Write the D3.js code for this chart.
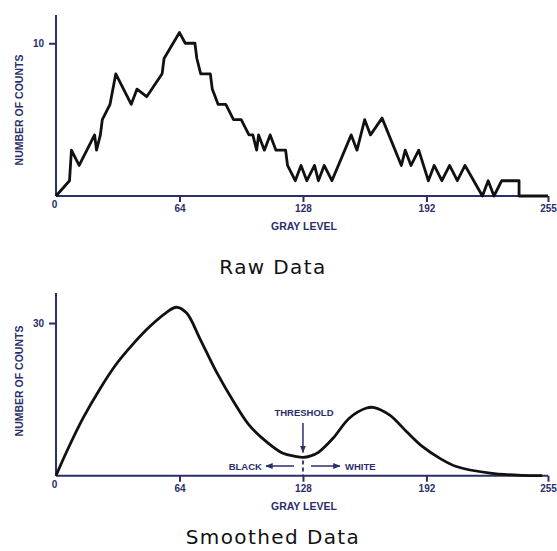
<!DOCTYPE html>
<html>
<head>
  <script src="https://cdnjs.cloudflare.com/ajax/libs/d3/7.8.5/d3.min.js"></script>
  <style>
    body { margin: 0; background: #fff; }
    .axis path, .axis line { stroke: #2b2e6b; stroke-width: 2; }
    .axis text, .label, .note {
      fill: #2b2e6b;
      font-family: "Liberation Sans", Arial, sans-serif;
      font-weight: bold;
    }
    .axis text { font-size: 10px; }
    .label { font-size: 10.5px; }
    .note { font-size: 9.5px; }
    .title {
      font-family: "DejaVu Sans", sans-serif;
      font-size: 20px;
      letter-spacing: 1.4px;
      fill: #111;
    }
    .data { fill: none; stroke: #111; stroke-width: 2.8; stroke-linejoin: round; }
  </style>
</head>
<body>
<div id="chart"></div>
<script>
  // Raw histogram (gray level, count)
  const rawLevels = [0, 7, 8, 12, 20, 21, 23, 24, 28, 31, 39, 42, 47, 55, 56, 64, 67, 72, 73, 75,
    80, 81, 84, 88, 92, 96, 100, 102, 104, 105, 108, 111, 114, 119, 120, 124, 127, 130, 134, 136,
    139, 143, 153, 156, 160, 163, 169, 179, 181, 184, 188, 193, 196, 200, 204, 208, 212, 221, 224,
    227, 231, 240, 240, 255];
  const rawCounts = [0, 1, 3, 2, 4, 3, 4, 5, 6, 8, 6, 7, 6.5, 8, 9, 10.7, 10, 10, 9, 8,
    8, 7, 6, 6, 5, 5, 4, 4, 3, 4, 3, 4, 3, 3, 2, 1, 2, 1, 2, 1,
    2, 1, 4, 3, 5, 4, 5.1, 2, 3, 2, 3, 1, 2, 1, 2, 1, 2, 0, 1,
    0, 1, 1, 0, 0];

  // Smoothed histogram
  const smoothLevels = [0, 5.5, 14, 23, 31, 40, 48.6, 57, 62.4, 67.6, 74.5, 83, 92, 100, 109,
    117.6, 124, 128, 132, 136, 143.7, 152, 161, 165, 173, 181.6, 190, 199, 207.5, 225, 242, 252];
  const smoothCounts = [0, 4.7, 11.3, 17.2, 21.8, 25.9, 29.3, 32, 33.1, 32, 27, 20.5, 14.6, 10, 6.7,
    4.4, 3.8, 3.6, 3.9, 4.6, 7.4, 11.3, 13.3, 13.4, 11.9, 8.7, 5.7, 3.4, 1.8, 0.5, 0.05, 0];

  const xTicks = [0, 64, 128, 192, 255];
  const rawYTicks = [10];
  const smoothYTicks = [30];
  const thresholdLevel = 128;

  const svg = d3.select("#chart").append("svg")
    .attr("width", 557)
    .attr("height", 551);

  const navy = "#2b2e6b";

  // arrow head
  svg.append("defs").append("marker")
    .attr("id", "head")
    .attr("viewBox", "0 0 10 10")
    .attr("refX", 9).attr("refY", 5)
    .attr("markerWidth", 5).attr("markerHeight", 5)
    .attr("orient", "auto")
    .append("path")
      .attr("d", "M0,1 L10,5 L0,9 Z")
      .attr("fill", navy);

  const x = d3.scaleLinear().domain([0, 255]).range([56, 548]);

  function drawPanel(p) {
    const y = d3.scaleLinear().domain([0, p.yMax]).range([p.base, p.top]);

    const xAxis = svg.append("g")
      .attr("class", "axis")
      .attr("transform", `translate(0,${p.base})`)
      .call(d3.axisBottom(x).tickValues(xTicks).tickSize(6).tickSizeOuter(0).tickPadding(3));
    xAxis.select(".domain").attr("d", `M${x(0)},0H${x(255)}`);
    // origin label sits without a tick
    xAxis.selectAll(".tick").filter(d => d === 0).each(function() {
      d3.select(this).select("line").remove();
      d3.select(this).select("text").attr("x", -2).attr("y", 5);
    });

    const yAxis = svg.append("g")
      .attr("class", "axis")
      .attr("transform", `translate(${x(0)},0)`)
      .call(d3.axisLeft(y).tickValues(p.yTicks).tickSize(7).tickSizeOuter(0).tickPadding(5));
    yAxis.select(".domain").attr("d", `M0,${p.base}V${p.top}`);

    svg.append("text")
      .attr("class", "label")
      .attr("transform", `translate(23,${p.labelY}) rotate(-90)`)
      .attr("text-anchor", "middle")
      .text("NUMBER OF COUNTS");

    svg.append("text")
      .attr("class", "label")
      .attr("x", x(128) + 1)
      .attr("y", p.base + 34)
      .attr("text-anchor", "middle")
      .text("GRAY LEVEL");

    svg.append("path")
      .datum(d3.zip(p.levels, p.counts))
      .attr("class", "data")
      .attr("d", d3.line().x(d => x(d[0])).y(d => y(d[1])).curve(p.curve));

    svg.append("text")
      .attr("class", "title")
      .attr("x", 273)
      .attr("y", p.titleY)
      .attr("text-anchor", "middle")
      .text(p.title);

    return y;
  }

  drawPanel({
    base: 196, top: 15, yMax: 11.85, yTicks: rawYTicks,
    levels: rawLevels, counts: rawCounts, curve: d3.curveLinear,
    labelY: 110, titleY: 274, title: "Raw Data"
  });

  const ys = drawPanel({
    base: 475.7, top: 293, yMax: 35.9, yTicks: smoothYTicks,
    levels: smoothLevels, counts: smoothCounts, curve: d3.curveCatmullRom.alpha(0.5),
    labelY: 381, titleY: 544, title: "Smoothed Data"
  });

  // threshold annotation
  const tx = x(thresholdLevel);
  svg.append("text")
    .attr("class", "note")
    .attr("x", tx + 1)
    .attr("y", 415.5)
    .attr("text-anchor", "middle")
    .text("THRESHOLD");

  svg.append("line")
    .attr("x1", tx).attr("x2", tx)
    .attr("y1", 423).attr("y2", ys(3.6) - 5)
    .attr("stroke", navy).attr("stroke-width", 1.5)
    .attr("marker-end", "url(#head)");

  svg.append("line")
    .attr("x1", tx).attr("x2", tx)
    .attr("y1", ys(3.6) + 3).attr("y2", ys(0))
    .attr("stroke", navy).attr("stroke-width", 1.8)
    .attr("stroke-dasharray", "4,3");

  svg.append("line")
    .attr("x1", tx - 9).attr("x2", tx - 37)
    .attr("y1", 466).attr("y2", 466)
    .attr("stroke", navy).attr("stroke-width", 1.5)
    .attr("marker-end", "url(#head)");

  svg.append("line")
    .attr("x1", tx + 8).attr("x2", tx + 37)
    .attr("y1", 466).attr("y2", 466)
    .attr("stroke", navy).attr("stroke-width", 1.5)
    .attr("marker-end", "url(#head)");

  svg.append("text")
    .attr("class", "note")
    .attr("x", tx - 41)
    .attr("y", 469.5)
    .attr("text-anchor", "end")
    .text("BLACK");

  svg.append("text")
    .attr("class", "note")
    .attr("x", tx + 42)
    .attr("y", 469.5)
    .text("WHITE");
</script>
</body>
</html>
